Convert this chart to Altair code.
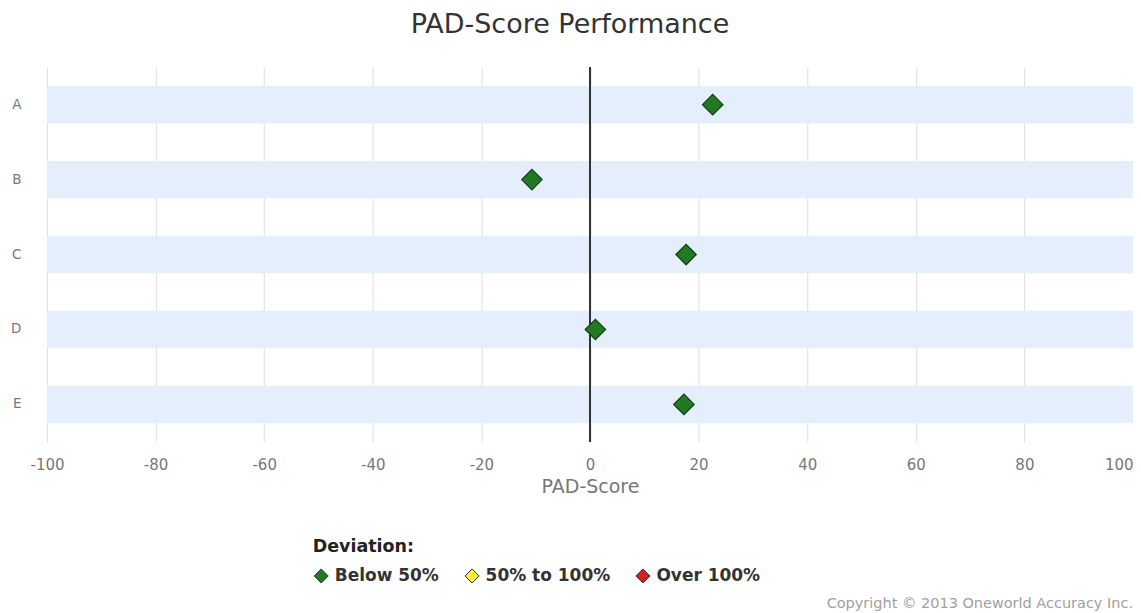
import altair as alt
import pandas as pd

categories = ["A", "B", "C", "D", "E"]
scores = [22.6, -10.7, 17.7, 1.0, 17.3]
deviation = ["Below 50%", "Below 50%", "Below 50%", "Below 50%", "Below 50%"]
dev_levels = ["Below 50%", "50% to 100%", "Over 100%"]
dev_colors = ["#217a21", "#f2ee3a", "#d61f1f"]
x_ticks = [-100, -80, -60, -40, -20, 0, 20, 40, 60, 80, 100]

df = pd.DataFrame({"cat": categories, "score": scores, "dev": deviation})
band_df = pd.DataFrame({"cat": categories, "lo": [-100] * 5, "hi": [100] * 5})
FONT = "DejaVu Sans"

yscale = alt.Scale(domain=categories, paddingInner=0.5, paddingOuter=0.25)
xscale = alt.Scale(domain=[-100, 100], nice=False)

bands = alt.Chart(band_df).mark_bar(color="#e4effb").encode(
    y=alt.Y("cat:N", scale=yscale, title=None,
            axis=alt.Axis(domain=False, ticks=False, grid=False, labelPadding=26,
                          labelFont=FONT, labelFontSize=13.5, labelColor="#777")),
    x=alt.X("lo:Q", scale=xscale, title="PAD-Score",
            axis=alt.Axis(values=x_ticks, domain=False, ticks=False, grid=True,
                          gridColor="#dedede", labelPadding=16, labelFlush=False,
                          labelExpr="'' + datum.value",
                          labelAlign=alt.expr("datum.value == 100 ? 'right' : 'center'"),
                          labelFont=FONT, labelFontSize=15, labelColor="#777",
                          titleFont=FONT, titleFontSize=19, titleFontWeight="normal",
                          titleColor="#777", titlePadding=5)),
    x2="hi:Q",
)

zero = alt.Chart(band_df).mark_rule(color="#333333", strokeWidth=1.5).encode(
    x=alt.datum(0, scale=xscale)
)

points = alt.Chart(df).mark_point(shape="diamond", filled=True, size=420,
                                  stroke="#173d17", strokeWidth=1.2, opacity=1).encode(
    x=alt.X("score:Q", scale=xscale),
    y=alt.Y("cat:N", scale=yscale),
    fill=alt.Fill("dev:N", scale=alt.Scale(domain=dev_levels, range=dev_colors),
                  legend=alt.Legend(title="Deviation:", orient="none", legendX=266, legendY=471,
                                    direction="horizontal", symbolType="diamond",
                                    symbolSize=200, symbolStrokeColor="#333",
                                    symbolStrokeWidth=1, columnPadding=23, padding=0,
                                    titleFont=FONT, titleFontSize=17.5, titleColor="#222",
                                    titleFontWeight="bold", titlePadding=12,
                                    labelFont=FONT, labelFontSize=17, labelFontWeight="bold",
                                    labelColor="#333", labelOffset=5)),
)

copyright_df = pd.DataFrame({"t": ["Copyright \u00a9 2013 Oneworld Accuracy Inc."]})
copy_text = alt.Chart(copyright_df).mark_text(align="right", baseline="middle",
                                              font=FONT, fontSize=14.5, color="#a0a0a0").encode(
    text="t:N", x=alt.value(1087), y=alt.value(537)
)

chart = alt.layer(bands, zero, points, copy_text).properties(
    width=1087, height=375,
    title=alt.TitleParams("PAD-Score Performance", font=FONT, fontSize=27,
                          fontWeight="normal", color="#333", offset=27, dx=-20),
    padding={"left": 2, "top": 3, "right": 0, "bottom": 0},
).configure(background="white").configure_view(strokeWidth=0, stroke="transparent")

chart.save("out.html", embed_options={"renderer": "svg", "actions": False})
